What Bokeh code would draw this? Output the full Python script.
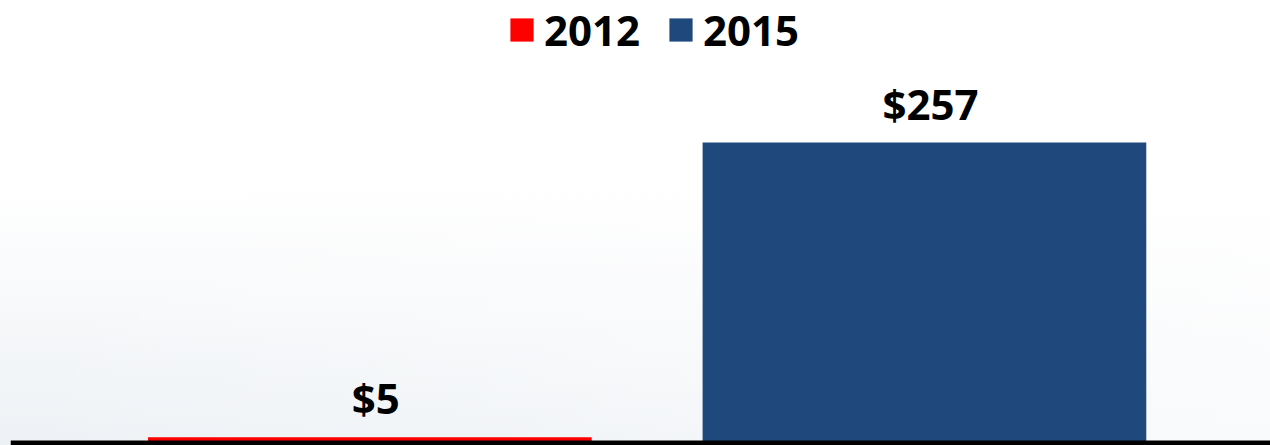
from bokeh.plotting import figure
from bokeh.models import ColumnDataSource, Range1d, Span, LabelSet, Legend, LegendItem
from bokeh.core.properties import value
from bokeh.embed import file_html
from bokeh.resources import INLINE

categories = ["2012", "2015"]
values = [5, 257]
labels = ["$5", "$257"]
colors = ["#ff0000", "#1f497d"]

FONT = "Open Sans"

src = ColumnDataSource(dict(
    x=list(range(len(categories))),
    top=values,
    label=labels,
    color=colors,
    cat=categories,
))

p = figure(width=1270, height=445, output_backend="svg", toolbar_location=None,
           x_range=Range1d(-0.648, 1.624), y_range=Range1d(-2.14, 378.5),
           min_border_left=10, min_border_right=0, min_border_top=0, min_border_bottom=0)
p.axis.visible = False
p.grid.visible = False
p.outline_line_color = None
p.background_fill_alpha = 0
p.border_fill_alpha = 0
p.styles = {"background": "linear-gradient(to right, rgba(255,255,255,0) 0%, rgba(255,255,255,0.65) 100%), "
                          "linear-gradient(to bottom, #ffffff 42%, #edf1f5 100%)"}

renderers = []
for i, c in enumerate(categories):
    r = p.vbar(x=[src.data["x"][i]], top=[values[i]], bottom=0, width=0.8,
               fill_color=colors[i], line_color=None)
    renderers.append(r)

p.add_layout(Span(location=0, dimension="width", line_color="black", line_width=5))

lbl = LabelSet(x="x", y="top", text="label", source=src, text_align="center",
               text_baseline="alphabetic", y_offset=23, x_offset=6,
               text_font=value(FONT), text_font_style="bold", text_font_size="42px",
               text_color="black")
p.add_layout(lbl)

legend = Legend(items=[LegendItem(label=c, renderers=[r]) for c, r in zip(categories, renderers)],
                orientation="horizontal", location=(497, 387),
                label_text_font=FONT, label_text_font_style="bold", label_text_font_size="42px",
                label_text_color="black",
                glyph_width=29, glyph_height=29, label_standoff=8, spacing=26,
                background_fill_alpha=0, border_line_color=None, margin=0, padding=2)
p.add_layout(legend)

open("out.html", "w").write(file_html(p, INLINE))
